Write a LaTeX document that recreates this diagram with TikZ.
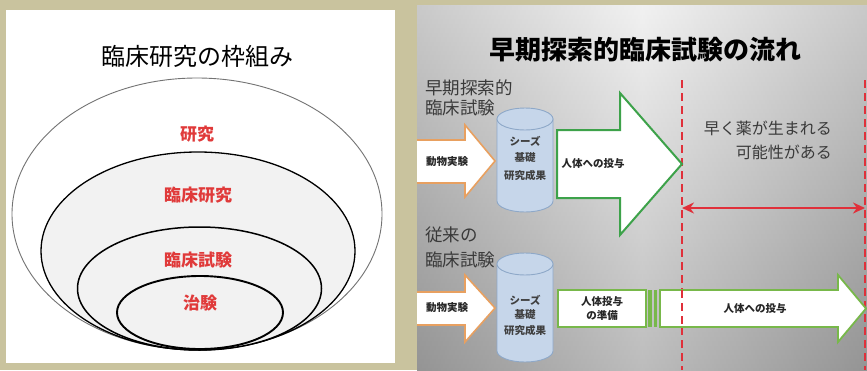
\documentclass[tikz,border=0pt]{standalone}
\usepackage{fontspec}
\setmainfont{Noto Sans CJK JP}
\usetikzlibrary{arrows.meta}
\definecolor{beige}{HTML}{C9C39E}
\definecolor{lblred}{HTML}{E03A3A}
\definecolor{dashred}{HTML}{E0303A}
\definecolor{orangeb}{HTML}{E8A060}
\definecolor{greenA}{HTML}{3DA24A}
\definecolor{greenB}{HTML}{78B84A}
\definecolor{cylfill}{HTML}{C6D6EA}
\definecolor{cylline}{HTML}{8EA8C8}
\definecolor{txtgray}{HTML}{3A3A3A}
\tikzset{
  ring/.style={line width=#1, draw=black, fill=black!5},
  redlbl/.style={text=lblred, font=\fontsize{17}{17}\selectfont\bfseries, inner sep=0pt},
  smalltxt/.style={text=black!85, font=\fontsize{10.5}{12}\selectfont\bfseries, inner sep=0pt},
  sidelbl/.style={text=txtgray, font=\fontsize{17.5}{18}\selectfont, inner sep=0pt, anchor=west},
  orangearrow/.style={draw=orangeb, line width=1.6pt, fill=white, line join=miter},
  cyl/.style={draw=cylline, line width=0.9pt, fill=cylfill},
  dashline/.style={draw=dashred, line width=1.3pt, dash pattern=on 8pt off 5pt},
}
\begin{document}
\begin{tikzpicture}[x=1pt,y=-1pt]
\useasboundingbox (0,0) rectangle (867,370);
\fill[beige] (0,0) rectangle (867,370);
% ---------------- left panel
\fill[white] (6,10) rectangle (395,363);
\node[font=\fontsize{24}{24}\selectfont, inner sep=0pt] (ltitle) at (197,56) {臨床研究の枠組み};
\draw[draw=black!55, line width=0.9pt, fill=white] (197,214) ellipse [x radius=185pt, y radius=136pt];
\draw[ring=1.3pt] (198,251) ellipse [x radius=157pt, y radius=99pt];
\draw[ring=1.5pt] (199.5,288.5) ellipse [x radius=122pt, y radius=61.5pt];
\draw[ring=1.9pt] (200,312.5) ellipse [x radius=83pt, y radius=36.5pt];
\node[redlbl] (l1) at (197,134) {研究};
\node[redlbl] (l2) at (198,195) {臨床研究};
\node[redlbl] (l3) at (198,260) {臨床試験};
\node[redlbl] (l4) at (200,303) {治験};
% ---------------- right panel
\begin{scope}
\clip (417,5) rectangle (867,370);
\shade[top color=black!8, bottom color=black!40] (417,5) rectangle (867,370);
\shade[left color=black!45, right color=black!45, middle color=white, opacity=0.35] (417,5) rectangle (867,370);
\node[font=\fontsize{26}{26}\selectfont\bfseries, inner sep=0pt] (rtitle) at (645,50) {早期探索的臨床試験の流れ};
\node[sidelbl] (s1a) at (425,88) {早期探索的};
\node[sidelbl] (s1b) at (425,108) {臨床試験};
\node[sidelbl] (s2a) at (425,235) {従来の};
\node[sidelbl] (s2b) at (425,260) {臨床試験};
% dashed lines
\coordinate (d1t) at (682,80); \coordinate (d1b) at (682,370);
\coordinate (d2t) at (865,80); \coordinate (d2b) at (865,370);
\draw[dashline] (d1t) -- (d1b);
\draw[dashline] (d2t) -- (d2b);
% upper row
\draw[orangearrow] (412,140) -- (465,140) -- (465,125) -- (495,161) -- (465,197) -- (465,183) -- (412,183) -- cycle;
\node[smalltxt] (oa1) at (447,162) {動物実験};
\draw[cyl] (497,119) -- (497,201) arc[start angle=180, end angle=360, x radius=28pt, y radius=11pt] -- (553,119) -- cycle;
\draw[cyl] (525,119) ellipse [x radius=28pt, y radius=11pt];
\node[smalltxt, text=black!75] (c1a) at (525,141) {シーズ};
\node[smalltxt, text=black!75] (c1b) at (525,158) {基礎};
\node[smalltxt, text=black!75] (c1c) at (525,175) {研究成果};
\draw[draw=greenA, line width=2pt, fill=white, line join=miter] (557,130) -- (620,130) -- (620,93) -- (682,164) -- (620,235) -- (620,198) -- (557,198) -- cycle;
\node[smalltxt] (g1) at (593,164) {人体への投与};
\node[text=txtgray, font=\fontsize{16}{16}\selectfont, inner sep=0pt, anchor=east] (e1) at (832,128) {早く薬が生まれる};
\node[text=txtgray, font=\fontsize{16}{16}\selectfont, inner sep=0pt, anchor=east] (e2) at (832,152) {可能性がある};
\draw[draw=dashred, line width=2.4pt, {Stealth[length=12pt,width=11pt]}-{Stealth[length=12pt,width=11pt]}] (d1t|-0,208) -- (d2t|-0,208);
% lower row
\draw[orangearrow] (412,292) -- (465,292) -- (465,275) -- (495,308) -- (465,342) -- (465,325) -- (412,325) -- cycle;
\node[smalltxt] (oa2) at (447,308) {動物実験};
\draw[cyl] (497,264) -- (497,351) arc[start angle=180, end angle=360, x radius=28pt, y radius=11pt] -- (553,264) -- cycle;
\draw[cyl] (525,264) ellipse [x radius=28pt, y radius=11pt];
\node[smalltxt, text=black!75] (c2a) at (525,300) {シーズ};
\node[smalltxt, text=black!75] (c2b) at (525,315) {基礎};
\node[smalltxt, text=black!75] (c2c) at (525,330) {研究成果};
\draw[draw=greenB, line width=1.8pt, fill=white] (558,290) rectangle (646,327);
\node[smalltxt, align=center, font=\fontsize{10.5}{14}\selectfont\bfseries] (prep) at (602,308.5) {人体投与\\の準備};
\fill[greenB] (648,290) rectangle (651.5,327);
\fill[greenB] (653.5,290) rectangle (657,327);
\draw[draw=greenB, line width=1.8pt, fill=white, line join=miter] (660,290) -- (838,290) -- (838,275) -- (866,308.5) -- (838,342) -- (838,327) -- (660,327) -- cycle;
\draw[dashline] (682,290) -- (682,327);
\node[smalltxt] (g2) at (755,308.5) {人体への投与};
\end{scope}
\end{tikzpicture}
\end{document}
